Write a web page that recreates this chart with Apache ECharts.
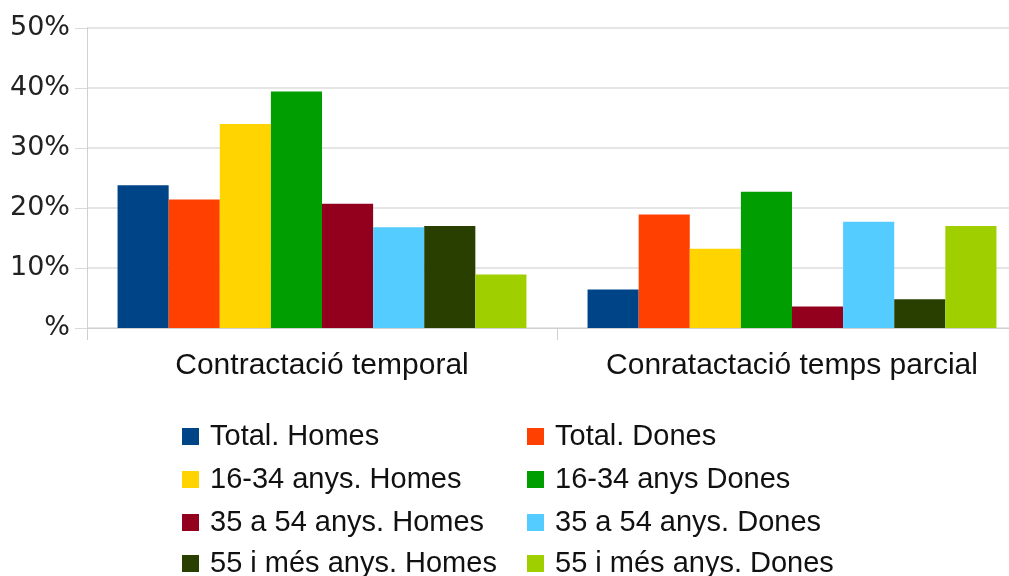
<!DOCTYPE html>
<html>
<head>
<meta charset="utf-8">
<script src="https://cdn.jsdelivr.net/npm/echarts@6/dist/echarts.min.js"></script>
<style>html,body{margin:0;padding:0;background:#fff;}#c{width:1009px;height:576px;}</style>
</head>
<body>
<div id="c"></div>
<script>
var categories = ['Contractació temporal', 'Conratactació temps parcial'];
var seriesNames = ['Total. Homes', 'Total. Dones', '16-34 anys. Homes', '16-34 anys Dones',
  '35 a 54 anys. Homes', '35 a 54 anys. Dones', '55 i més anys. Homes', '55 i més anys. Dones'];
var totalHomes = [23.8, 6.4];
var totalDones = [21.4, 18.9];
var jovesHomes = [34.0, 13.2];
var jovesDones = [39.4, 22.7];
var midHomes = [20.7, 3.6];
var midDones = [16.8, 17.7];
var gransHomes = [17.0, 4.8];
var gransDones = [8.9, 17.0];
var yTicks = [0, 10, 20, 30, 40, 50];
var colors = ['#004488', '#ff4000', '#ffd400', '#009e00', '#92001e', '#55ccff', '#283f00', '#a0cf00'];

var values = [totalHomes, totalDones, jovesHomes, jovesDones, midHomes, midDones, gransHomes, gransDones];

var chart = echarts.init(document.getElementById('c'));
var series = seriesNames.map(function (n, i) {
  return {
    name: n, type: 'bar', data: values[i], barGap: '0%', barCategoryGap: '13%',
    itemStyle: { color: colors[i] }
  };
});
var legendText = { fontFamily: 'Liberation Sans', fontSize: 29, color: '#111', lineHeight: 28, padding: [0, 0, 0, 6] };
var colLeft = [182, 527];
var rowTop = [422, 465, 508, 549];
var legends = seriesNames.map(function (n, i) {
  return {
    orient: 'horizontal', left: colLeft[i % 2], top: rowTop[Math.floor(i / 2)], padding: 0,
    itemWidth: 17, itemHeight: 17, icon: 'rect', textStyle: legendText, data: [n]
  };
});
chart.setOption({
  animation: false,
  color: colors,
  grid: { left: 87, top: 28, height: 300, width: 940, outerBoundsMode: 'none', containLabel: false },
  xAxis: {
    type: 'category', data: categories,
    axisLine: { show: true, lineStyle: { color: '#d0d0d0', width: 1 } },
    axisTick: { show: true, length: 12, lineStyle: { color: '#d0d0d0' } },
    axisLabel: { interval: 0, fontFamily: 'Liberation Sans', fontSize: 30, color: '#111', margin: 23 }
  },
  yAxis: {
    type: 'value', min: yTicks[0], max: yTicks[yTicks.length - 1], interval: 10,
    axisLine: { show: true, lineStyle: { color: '#d0d0d0', width: 1 } },
    axisTick: { show: true, length: 12, lineStyle: { color: '#d8d8d8' } },
    splitLine: { lineStyle: { color: '#dcdcdc', width: 1.5 } },
    axisLabel: {
      fontFamily: 'DejaVu Sans', fontSize: 27, color: '#222', margin: 17,
      formatter: function (v) { return v === 0 ? '%' : v + '%'; }
    }
  },
  legend: legends,
  series: series
});
</script>
</body>
</html>
